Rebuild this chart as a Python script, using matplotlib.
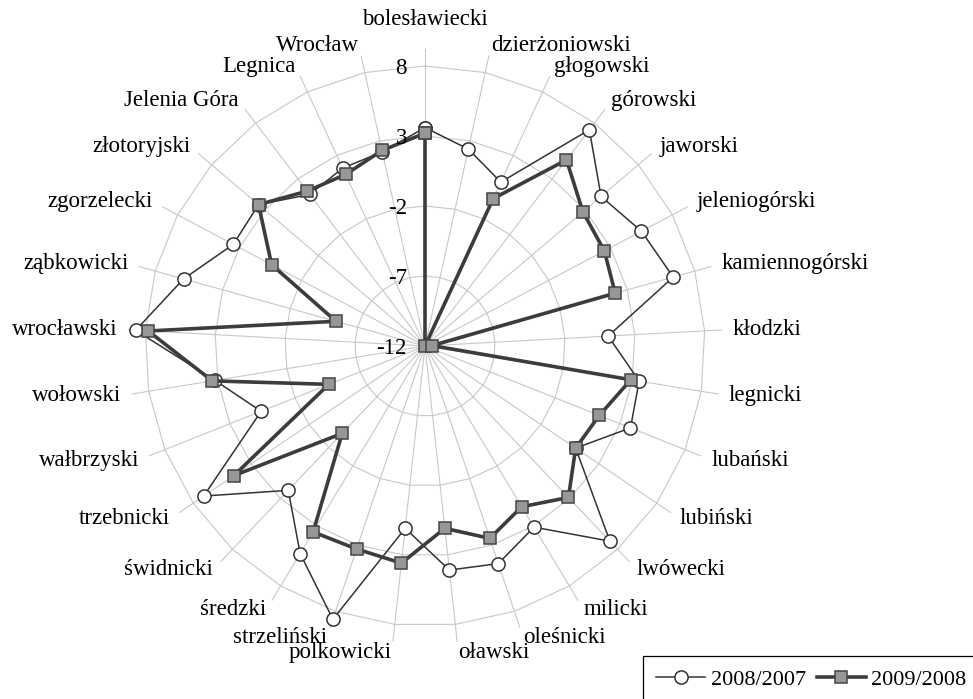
import numpy as np
import matplotlib
matplotlib.use("Agg")
import matplotlib.pyplot as plt
from matplotlib.lines import Line2D

categories = ["bolesławiecki", "dzierżoniowski", "głogowski", "górowski", "jaworski",
              "jeleniogórski", "kamiennogórski", "kłodzki", "legnicki", "lubański",
              "lubiński", "lwówecki", "milicki", "oleśnicki", "oławski", "polkowicki",
              "strzeliński", "średzki", "świdnicki", "trzebnicki", "wałbrzyski",
              "wołowski", "wrocławski", "ząbkowicki", "zgorzelecki", "złotoryjski",
              "Jelenia Góra", "Legnica", "Wrocław"]
values_2008 = [3.6, 2.4, 0.9, 7.4, 4.5, 5.5, 6.4, 1.1, 3.5, 3.8, 1.0, 7.2, 3.1, 4.4, 4.1,
               1.1, 8.6, 5.3, 2.2, 7.1, 0.6, 3.2, 8.7, 5.9, 3.5, 3.6, 1.6, 2.0, 2.2]
values_2009 = [3.2, -12.0, -0.4, 4.7, 2.8, 2.5, 2.1, -11.5, 2.9, 1.4, 1.0, 2.9, 1.4, 2.5, 1.1,
               3.6, 3.3, 3.5, -3.4, 4.5, -4.6, 3.4, 7.8, -5.4, 0.4, 3.6, 1.9, 1.5, 2.3]
series_names = ["2008/2007", "2009/2008"]
ticks = [-12, -7, -2, 3, 8]

plt.rcParams['font.family'] = ['Liberation Serif', 'DejaVu Serif']
FS = 16.5
FS_LEG = 16

W, H = 973, 699
fig = plt.figure(figsize=(W / 100, H / 100), dpi=100)
cx, cy, R = 425, 346, 280
ax = fig.add_axes([(cx - R) / W, (H - cy - R) / H, 2 * R / W, 2 * R / H], projection='polar')
ax.set_theta_zero_location('N')
ax.set_theta_direction(-1)
rmin, rmax = ticks[0], ticks[-1]
ax.set_ylim(rmin, rmax)
ax.set_xticks([])
ax.set_yticks([])
ax.grid(False)
ax.spines['polar'].set_visible(False)

n = len(categories)
theta = np.arange(n) * 2 * np.pi / n
theta_c = np.append(theta, theta[0])

grid_col = '#c8c8c8'
# polygon gridlines
for v in ticks[1:]:
    ax.plot(theta_c, [v] * (n + 1), color=grid_col, lw=0.8, zorder=1, clip_on=False)
# spokes
for t in theta:
    ax.plot([t, t], [rmin, 9.2], color=grid_col, lw=0.8, zorder=1, clip_on=False)

v1 = np.append(values_2008, values_2008[0])
v2 = np.append(values_2009, values_2009[0])
ax.plot(theta_c, v1, color='#333333', lw=1.1, marker='o', markersize=9.5,
        markerfacecolor='white', markeredgecolor='#333333', markeredgewidth=1.1,
        zorder=3, clip_on=False)
ax.plot(theta_c, v2, color='#3c3c3c', lw=2.6, marker='s', markersize=9.3,
        markerfacecolor='#979797', markeredgecolor='#444444', markeredgewidth=1.1,
        zorder=4, clip_on=False)

# category labels
for t, name in zip(theta, categories):
    s = np.sin(t)
    if abs(s) < 0.01:
        ax.text(t, 10.6, name, ha='center', va='bottom', fontsize=FS)
    else:
        ax.text(t, 10.0, name, ha='left' if s > 0 else 'right', va='center', fontsize=FS)

# value tick labels
for v in ticks:
    ax.annotate(str(v), xy=(0, v), xytext=(-13, -1.5), textcoords='offset points',
                ha='right', va='center', fontsize=FS, zorder=5)

handles = [
    Line2D([], [], color='#333333', lw=1.1, marker='o', markersize=9.5,
           markerfacecolor='white', markeredgecolor='#333333', markeredgewidth=1.1),
    Line2D([], [], color='#3c3c3c', lw=2.6, marker='s', markersize=9.3,
           markerfacecolor='#979797', markeredgecolor='#444444', markeredgewidth=1.1),
]
leg = fig.legend(handles, series_names, loc='upper left',
                 bbox_to_anchor=(643 / W, 1 - 656 / H), ncol=2, fontsize=FS_LEG,
                 frameon=True, fancybox=False, edgecolor='black', framealpha=1,
                 handlelength=2.2, handletextpad=0.25, columnspacing=0.5,
                 borderpad=0.6, borderaxespad=0.0)
leg.get_frame().set_linewidth(0.9)

fig.savefig('out.png', dpi=100)
